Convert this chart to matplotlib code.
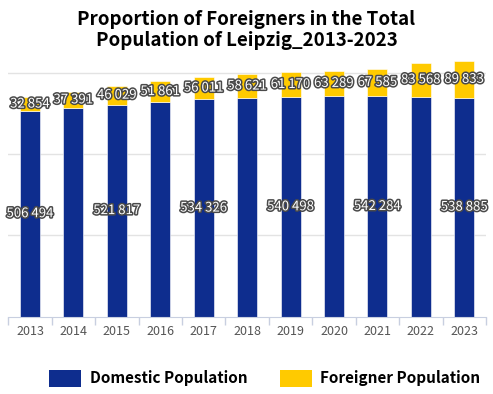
import matplotlib
matplotlib.use("Agg")
import matplotlib.pyplot as plt
import matplotlib.patheffects as pe
from matplotlib.patches import Patch

years = ["2013", "2014", "2015", "2016", "2017", "2018", "2019", "2020", "2021", "2022", "2023"]
domestic = [506494, 514480, 521817, 527669, 534326, 537896, 540498, 542118, 542284, 540700, 538885]
foreign = [32854, 37391, 46029, 51861, 56011, 58621, 61170, 63289, 67585, 83568, 89833]
show_domestic_label = [True, False, True, False, True, False, True, False, True, False, True]

BLUE = "#0E2D8E"
YELLOW = "#FFCA00"

plt.rcParams['font.family'] = ['Noto Sans CJK KR', 'DejaVu Sans']

fig = plt.figure(figsize=(4.93, 3.94), dpi=100)
ax = fig.add_axes([0.0168, 0.1962, 0.9690, 0.6708])

x = list(range(len(years)))
w = 0.46
ax.bar(x, domestic, width=w, color=BLUE, edgecolor="white", linewidth=0.4, zorder=2)
ax.bar(x, foreign, width=w, bottom=domestic, color=YELLOW, edgecolor="white", linewidth=0.4, zorder=2)

def fmt(v):
    return f"{v:,}".replace(",", " ")

stroke = [pe.withStroke(linewidth=2.2, foreground="#4a4a4a")]
for i in x:
    ax.text(i, domestic[i] + foreign[i] / 2, fmt(foreign[i]), ha="center", va="center",
            color="white", fontsize=9.5, path_effects=stroke, zorder=4)
    if show_domestic_label[i]:
        ax.text(i, domestic[i] / 2, fmt(domestic[i]), ha="center", va="center",
                color="white", fontsize=9.5, path_effects=stroke, zorder=4)

ax.set_xlim(-0.5, len(years) - 0.5)
ax.set_ylim(0, 650000)
ax.set_yticks([200000, 400000, 600000])
ax.set_yticklabels([])
ax.tick_params(axis="y", length=0)
ax.grid(axis="y", color="#e3e3e3", linewidth=1, zorder=0)
ax.set_xticks([i - 0.5 for i in range(len(years) + 1)], minor=False)
ax.set_xticklabels([])
ax.tick_params(axis="x", which="major", length=6, color="#c8cfe0", width=1)
ax.set_xticks(x, minor=True)
ax.set_xticklabels(years, minor=True)
ax.tick_params(axis="x", which="minor", length=0, labelsize=9, labelcolor="#555555", pad=6)
for s in ["top", "right", "left"]:
    ax.spines[s].set_visible(False)
ax.spines["bottom"].set_color("#c8cfe0")

fig.text(0.5, 0.975, "Proportion of Foreigners in the Total\nPopulation of Leipzig_2013-2023",
         ha="center", va="top", fontsize=13.5, fontweight="bold", color="black", linespacing=1.15)

handles = [Patch(facecolor=BLUE, label="Domestic Population"),
           Patch(facecolor=YELLOW, label="Foreigner Population")]
fig.legend(handles=handles, loc="center", bbox_to_anchor=(0.537, 0.04), ncol=2, frameon=False,
           prop={"size": 11, "weight": "bold"}, handlelength=2.1, handleheight=1.35,
           columnspacing=2.1, handletextpad=0.55)

fig.savefig("out.png", dpi=100)
